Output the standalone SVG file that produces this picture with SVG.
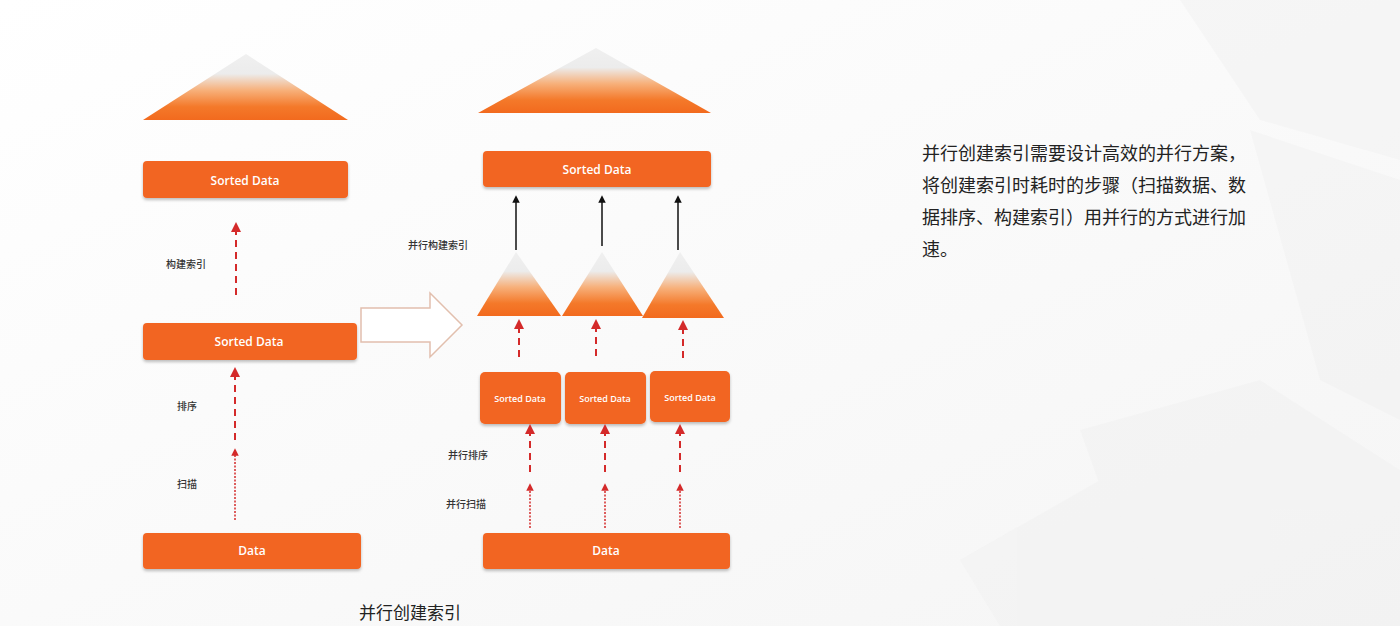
<svg xmlns="http://www.w3.org/2000/svg" width="1400" height="626" viewBox="0 0 1400 626">
<defs>
<linearGradient id="tri" x1="0" y1="0" x2="0" y2="1">
<stop offset="0" stop-color="#f0f0f0"/>
<stop offset="0.3" stop-color="#ececec"/>
<stop offset="0.55" stop-color="#f7b07a"/>
<stop offset="0.8" stop-color="#f4792a"/>
<stop offset="1" stop-color="#f26a1e"/>
</linearGradient>
<linearGradient id="bg" x1="0" y1="0" x2="1" y2="1">
<stop offset="0" stop-color="#ffffff"/>
<stop offset="1" stop-color="#f5f5f5"/>
</linearGradient>
<filter id="sh" x="-10%" y="-20%" width="120%" height="150%">
<feDropShadow dx="0" dy="2" stdDeviation="1.5" flood-color="#000" flood-opacity="0.25"/>
</filter>
<marker id="ar" viewBox="0 0 6 6" refX="3" refY="3" markerWidth="5" markerHeight="5" orient="auto">
<path d="M0,0 L6,3 L0,6 Z" fill="#d42a2a"/>
</marker>
<marker id="ab" viewBox="0 0 6 6" refX="3" refY="3" markerWidth="5" markerHeight="5" orient="auto">
<path d="M0,0 L6,3 L0,6 Z" fill="#111"/>
</marker>
<style>
.box{fill:#f26522;filter:url(#sh)}
.bt{font-family:"Open Sans","Noto Sans",sans-serif;fill:#fff;text-anchor:middle;dominant-baseline:central;font-weight:600}
.lbl{font-family:"Noto Sans CJK SC",sans-serif;font-size:10px;fill:#333;font-weight:500}
.dash{stroke:#d42a2a;stroke-width:2;stroke-dasharray:7,5;fill:none}
.dot{stroke:#d42a2a;stroke-width:1.5;stroke-dasharray:2,1.5;fill:none}
.blk{stroke:#111;stroke-width:1.5;fill:none}
.tri{fill:url(#tri)}
.para{font-family:"Noto Sans CJK SC",sans-serif;font-size:18px;fill:#222}
</style>
</defs>
<rect width="1400" height="626" fill="url(#bg)"/>
<g id="background" fill="#eeeeee" opacity="0.35">
<polygon points="1180,0 1400,0 1400,160 1260,120"/>
<polygon points="1250,130 1400,180 1400,420 1320,380"/>
<polygon points="1080,430 1260,380 1400,470 1400,626 1150,626"/>
<polygon points="960,560 1100,480 1180,626 1000,626"/>
</g>

<g id="left-tree"><polygon class="tri" points="246,54 348,120 143,120"/></g>
<g id="left-sorted-top"><rect class="box" x="143" y="161" width="205" height="37" rx="4"/><text class="bt" x="245" y="180" font-size="12">Sorted Data</text></g>
<g id="left-sorted-mid"><rect class="box" x="143" y="323" width="214" height="37" rx="4"/><text class="bt" x="249" y="341" font-size="12">Sorted Data</text></g>
<g id="left-data"><rect class="box" x="143" y="533" width="218" height="36" rx="4"/><text class="bt" x="252" y="550" font-size="12">Data</text></g>

<g id="hollow-arrow"><polygon points="361,308 430,308 430,293 462,325 430,357 430,342 361,342" fill="#fff" stroke="#e2bfae" stroke-width="1.5"/></g>

<g id="right-tree"><polygon class="tri" points="596,48 711,113 478,113"/></g>
<g id="right-sorted-top"><rect class="box" x="483" y="151" width="228" height="36" rx="4"/><text class="bt" x="597" y="169" font-size="12">Sorted Data</text></g>
<g id="sub-tree-1"><polygon class="tri" points="516,252 561,316 477,316"/></g>
<g id="sub-tree-2"><polygon class="tri" points="602,252 643,316 562,316"/></g>
<g id="sub-tree-3"><polygon class="tri" points="680,252 724,318 642,318"/></g>
<g id="sorted-1"><rect class="box" x="480" y="372" width="81" height="52" rx="5"/><text class="bt" x="520" y="398" font-size="9">Sorted Data</text></g>
<g id="sorted-2"><rect class="box" x="565" y="372" width="81" height="52" rx="5"/><text class="bt" x="605" y="398" font-size="9">Sorted Data</text></g>
<g id="sorted-3"><rect class="box" x="650" y="371" width="80" height="51" rx="5"/><text class="bt" x="690" y="397" font-size="9">Sorted Data</text></g>
<g id="right-data"><rect class="box" x="483" y="533" width="247" height="36" rx="4"/><text class="bt" x="606" y="550" font-size="12">Data</text></g>

<g id="connectors">
<line class="dash" x1="236" y1="295" x2="236" y2="227" marker-end="url(#ar)"/>
<line class="dash" x1="235" y1="440" x2="235" y2="372" marker-end="url(#ar)"/>
<line class="dot" x1="235" y1="520" x2="235" y2="452" marker-end="url(#ar)"/>
<line class="blk" x1="516" y1="250" x2="516" y2="199" marker-end="url(#ab)"/>
<line class="blk" x1="602" y1="246" x2="602" y2="199" marker-end="url(#ab)"/>
<line class="blk" x1="678" y1="250" x2="678" y2="199" marker-end="url(#ab)"/>
<line class="dash" x1="519" y1="357" x2="519" y2="324" marker-end="url(#ar)"/>
<line class="dash" x1="596" y1="356" x2="596" y2="324" marker-end="url(#ar)"/>
<line class="dash" x1="683" y1="358" x2="683" y2="325" marker-end="url(#ar)"/>
<line class="dash" x1="530" y1="472" x2="530" y2="429" marker-end="url(#ar)"/>
<line class="dash" x1="605" y1="472" x2="605" y2="429" marker-end="url(#ar)"/>
<line class="dash" x1="680" y1="472" x2="680" y2="429" marker-end="url(#ar)"/>
<line class="dot" x1="530" y1="528" x2="530" y2="487" marker-end="url(#ar)"/>
<line class="dot" x1="605" y1="528" x2="605" y2="487" marker-end="url(#ar)"/>
<line class="dot" x1="680" y1="528" x2="680" y2="487" marker-end="url(#ar)"/>
</g>

<g id="labels">
<text class="lbl" x="166" y="268">构建索引</text>
<text class="lbl" x="177" y="410">排序</text>
<text class="lbl" x="177" y="488">扫描</text>
<text class="lbl" x="408" y="249">并行构建索引</text>
<text class="lbl" x="448" y="459">并行排序</text>
<text class="lbl" x="446" y="508">并行扫描</text>
<text x="359" y="619" font-family="Noto Sans CJK SC,sans-serif" font-size="17" fill="#222">并行创建索引</text>
</g>

<g id="description">
<text class="para" x="922" y="160">并行创建索引需要设计高效的并行方案，</text>
<text class="para" x="922" y="192">将创建索引时耗时的步骤（扫描数据、数</text>
<text class="para" x="922" y="224">据排序、构建索引）用并行的方式进行加</text>
<text class="para" x="922" y="256">速。</text>
</g>
</svg>
